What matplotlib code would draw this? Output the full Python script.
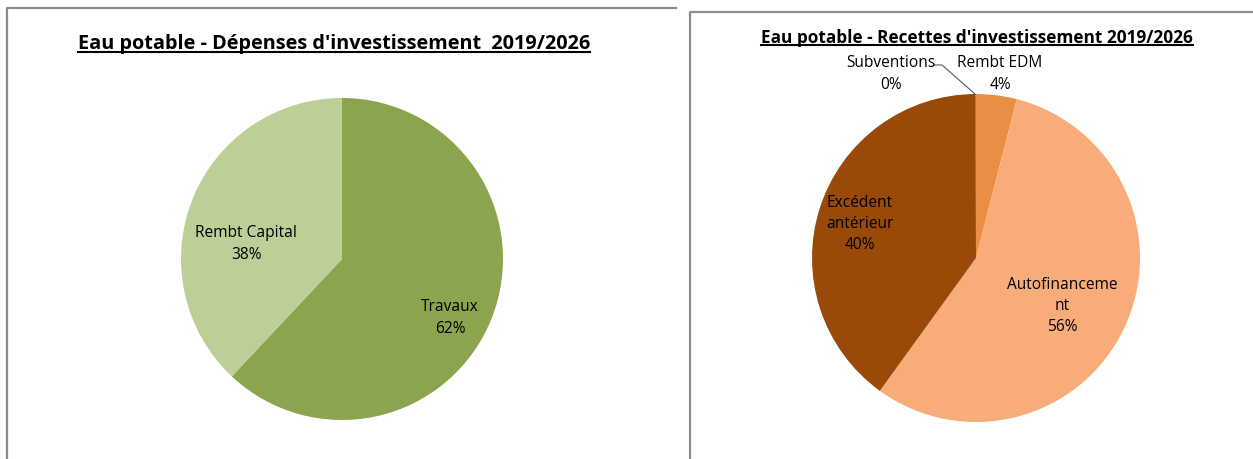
import matplotlib.pyplot as plt

plt.rcParams['font.family'] = ['Open Sans', 'DejaVu Sans']

# Left chart: dépenses
dep_labels = ["Travaux", "Rembt Capital"]
dep_values = [62, 38]
dep_colors = ["#8AA54E", "#BBCF96"]

# Right chart: recettes
rec_labels = ["Rembt EDM", "Autofinanceme\nnt", "Excédent\nantérieur", "Subventions"]
rec_values = [4, 56, 40, 0.05]
rec_pct = [4, 56, 40, 0]
rec_colors = ["#E88E45", "#F8AC7A", "#9A4A08", "#9A4A08"]

W, H = 1253, 460
fig = plt.figure(figsize=(W / 100, H / 100), dpi=100)
ax = fig.add_axes([0, 0, 1, 1])

def Y(y):
    return H - y

# chart frames
grey = "#8C8C8C"
ax.plot([7, 7, 676], [Y(470), Y(9), Y(9)], color=grey, lw=1.6)
ax.plot([690, 690, 1260], [Y(470), Y(13), Y(13)], color=grey, lw=1.6)

# pies (clockwise from top)
ax.pie(dep_values, colors=dep_colors, startangle=90, counterclock=False,
       center=(342, Y(260)), radius=161, frame=True)
ax.pie(rec_values, colors=rec_colors, startangle=90, counterclock=False,
       center=(976, Y(259)), radius=164, frame=True)
ax.set_xlim(0, W)
ax.set_ylim(0, H)
ax.set_aspect("equal")
ax.axis("off")

lbl = dict(ha="center", va="center", fontsize=11.2, color="black", linespacing=1.42)
ax.text(246, Y(244), f"{dep_labels[1]}\n{dep_values[1]}%", **lbl)
ax.text(450, Y(318), f"{dep_labels[0]}\n{dep_values[0]}%", **lbl)

ax.text(1000, Y(74), f"{rec_labels[0]}\n{rec_pct[0]}%", **lbl)
ax.text(1062, Y(306), f"{rec_labels[1]}\n{rec_pct[1]}%", **lbl)
ax.text(860, Y(224), f"{rec_labels[2]}\n{rec_pct[2]}%", **lbl)
ax.text(891, Y(74), f"{rec_labels[3]}\n{rec_pct[3]}%", **lbl)
# leader line for Subventions
ax.plot([934, 942, 975], [Y(66), Y(66), Y(95)], color="#595959", lw=0.8)

def underlined_title(x, y, s, size):
    t = ax.text(x, Y(y), s, ha="center", va="center", fontsize=size,
                fontweight="bold", color="black")
    fig.canvas.draw()
    bb = t.get_window_extent().transformed(ax.transData.inverted())
    ax.plot([bb.x0, bb.x1], [bb.y0 + 1, bb.y0 + 1], color="black", lw=1.5)

underlined_title(334, 44, "Eau potable - Dépenses d'investissement  2019/2026", 14.3)
underlined_title(977, 38, "Eau potable - Recettes d'investissement 2019/2026", 12.4)

fig.savefig("out.png", dpi=100)
